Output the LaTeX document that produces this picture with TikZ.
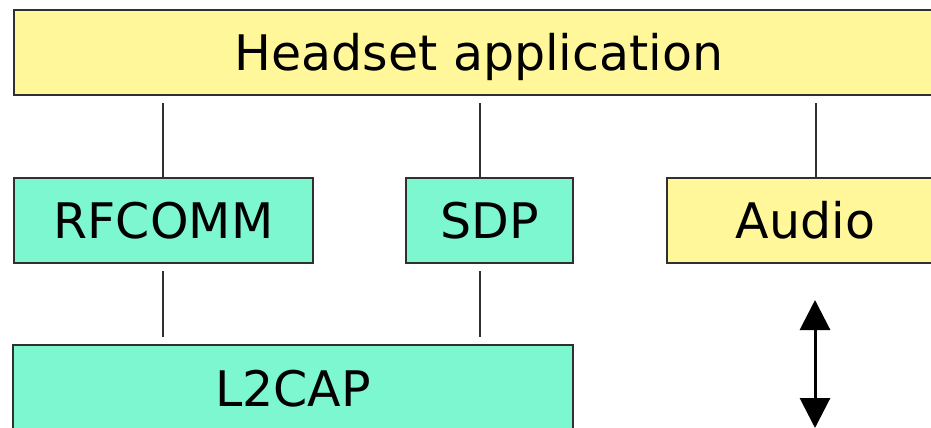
\documentclass[tikz,border=0pt]{standalone}
\usepackage{fontspec}
\setmainfont{DejaVu Sans}
\usetikzlibrary{arrows.meta}
\definecolor{boxyellow}{HTML}{FFF799}
\definecolor{boxgreen}{HTML}{7DF7CF}
\definecolor{edgegray}{HTML}{303030}
\begin{document}
\begin{tikzpicture}[x=1pt,y=-1pt,
  layer/.style={draw=edgegray,line width=2pt,rectangle,inner sep=0pt,
    font=\fontsize{49}{58}\selectfont,text=black,
    text height=35.7pt,text depth=0pt},
  yellowbox/.style={layer,fill=boxyellow},
  greenbox/.style={layer,fill=boxgreen},
  link/.style={draw=edgegray,line width=2pt},
  bidir/.style={black,line width=3pt,{Triangle[width=30pt,length=30pt]}-{Triangle[width=30pt,length=30pt]}}]
\useasboundingbox (0,0) rectangle (931,428);
\clip (0,0) rectangle (931,428);
\node[yellowbox,minimum width=930pt,minimum height=85pt] (head) at (479,52.5) {Headset application};
\node[greenbox,minimum width=299pt,minimum height=85pt] (rf) at (163.5,220.5) {RFCOMM};
\node[greenbox,minimum width=167pt,minimum height=85pt] (sdp) at (489.5,220.5) {SDP};
\node[yellowbox,minimum width=277pt,minimum height=85pt] (aud) at (805.5,220.5) {Audio};
\node[greenbox,minimum width=560pt,minimum height=87pt] (l2) at (293,388.5) {L2CAP};
\coordinate (h1) at (163,103);
\coordinate (h2) at (480,103);
\coordinate (h3) at (816,103);
\draw[link] (h1) -- (h1 |- rf.north);
\draw[link] (h2) -- (h2 |- sdp.north);
\draw[link] (h3) -- (h3 |- aud.north);
\coordinate (r1) at (163,271);
\coordinate (r1e) at (163,337);
\coordinate (s1) at (480,271);
\coordinate (s1e) at (480,337);
\draw[link] (r1) -- (r1e);
\draw[link] (s1) -- (s1e);
\coordinate (a1) at (815,300);
\coordinate (a2) at (815,428);
\draw[bidir] (a1) -- (a2);
\end{tikzpicture}
\end{document}
